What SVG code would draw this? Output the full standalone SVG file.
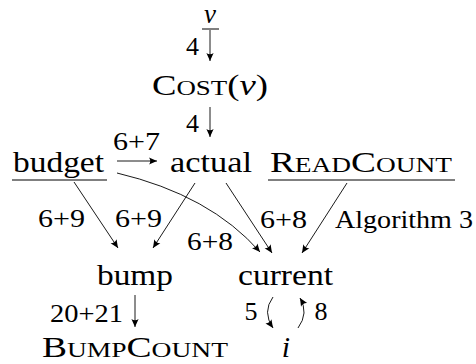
<svg xmlns="http://www.w3.org/2000/svg" width="476" height="364" viewBox="0 0 476 364" font-family="Liberation Serif, DejaVu Serif, serif">
<style>
text{fill:#000}
.n{font-size:30px}
.l{font-size:26px}
.sc{font-size:22px}
.it{font-style:italic}
.e{fill:none;stroke:#000;stroke-width:0.9}
</style>
<defs>
<marker id="ah" markerUnits="userSpaceOnUse" markerWidth="12" markerHeight="10" viewBox="-9 -5 10 10" refX="0" refY="0" orient="auto">
<path d="M0,0 L-8,-3.6 Q-5.5,0 -8,3.6 Z" fill="#000"/>
</marker>
</defs>
<rect width="476" height="364" fill="#fff"/>
<g id="v"><text class="n it" x="210" y="23" text-anchor="middle" style="font-size:27px">v</text><line x1="202" y1="29" x2="219" y2="29" stroke="#000" stroke-width="1"/></g>
<g id="cost"><text class="n" x="152" y="95" textLength="116" lengthAdjust="spacingAndGlyphs">C<tspan class="sc">OST</tspan>(<tspan class="it">v</tspan>)</text></g>
<g id="budget"><text class="n" x="13" y="172" textLength="91" lengthAdjust="spacingAndGlyphs">budget</text><line x1="12" y1="180" x2="107" y2="180" stroke="#000" stroke-width="1"/></g>
<g id="actual"><text class="n" x="170" y="172" textLength="82" lengthAdjust="spacingAndGlyphs">actual</text></g>
<g id="readcount"><text class="n" x="270" y="172" textLength="182" lengthAdjust="spacingAndGlyphs">R<tspan class="sc">EAD</tspan>C<tspan class="sc">OUNT</tspan></text><line x1="268" y1="180" x2="455" y2="180" stroke="#000" stroke-width="1"/></g>
<g id="bump"><text class="n" x="97" y="285" textLength="76" lengthAdjust="spacingAndGlyphs">bump</text></g>
<g id="current"><text class="n" x="238" y="285" textLength="95" lengthAdjust="spacingAndGlyphs">current</text></g>
<g id="bumpcount"><text class="n" x="42" y="357" textLength="186" lengthAdjust="spacingAndGlyphs">B<tspan class="sc">UMP</tspan>C<tspan class="sc">OUNT</tspan></text></g>
<g id="i"><text class="n it" x="286" y="357" text-anchor="middle">i</text></g>
<g id="connectors">
<line class="e" x1="210" y1="30" x2="210" y2="61" marker-end="url(#ah)"/>
<line class="e" x1="210" y1="107" x2="210" y2="137" marker-end="url(#ah)"/>
<line class="e" x1="117" y1="161" x2="157" y2="161" marker-end="url(#ah)"/>
<line class="e" x1="74" y1="182" x2="118" y2="248" marker-end="url(#ah)"/>
<line class="e" x1="195" y1="183" x2="153" y2="248" marker-end="url(#ah)"/>
<path class="e" d="M117,173 Q210,195 260,252" marker-end="url(#ah)"/>
<line class="e" x1="226" y1="183" x2="272" y2="253" marker-end="url(#ah)"/>
<line class="e" x1="347" y1="183" x2="302" y2="253" marker-end="url(#ah)"/>
<line class="e" x1="135" y1="295" x2="135" y2="327" marker-end="url(#ah)"/>
<path class="e" d="M273,297 Q262,312 273,328" marker-end="url(#ah)"/>
<path class="e" d="M298,328 Q309,313 300,298" marker-end="url(#ah)"/>
<text class="l" x="192.5" y="55" text-anchor="middle">4</text>
<text class="l" x="192.5" y="132" text-anchor="middle">4</text>
<text class="l" x="113" y="150" textLength="47" lengthAdjust="spacingAndGlyphs">6+7</text>
<text class="l" x="38" y="227" textLength="47" lengthAdjust="spacingAndGlyphs">6+9</text>
<text class="l" x="115" y="227" textLength="47" lengthAdjust="spacingAndGlyphs">6+9</text>
<text class="l" x="187" y="250" textLength="46" lengthAdjust="spacingAndGlyphs">6+8</text>
<text class="l" x="260" y="228" textLength="47" lengthAdjust="spacingAndGlyphs">6+8</text>
<text class="l" x="335" y="228" textLength="138" lengthAdjust="spacingAndGlyphs">Algorithm 3</text>
<text class="l" x="50" y="322" textLength="73" lengthAdjust="spacingAndGlyphs">20+21</text>
<text class="l" x="251" y="320" text-anchor="middle">5</text>
<text class="l" x="321" y="320" text-anchor="middle">8</text>
</g>
</svg>
